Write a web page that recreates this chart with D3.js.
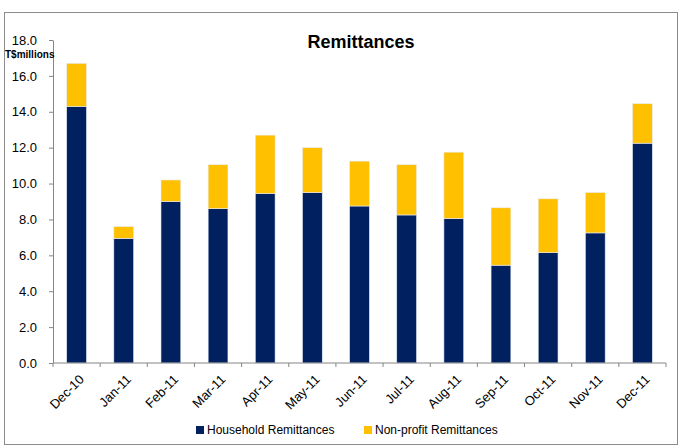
<!DOCTYPE html>
<html>
<head>
<meta charset="utf-8">
<script src="https://cdn.jsdelivr.net/npm/d3@7"></script>
<style>
  body { margin: 0; background: #fff; }
  svg text { font-family: "Liberation Sans Narrow", "Liberation Sans", sans-serif; }
</style>
</head>
<body>
<div id="chart"></div>
<script>
// Data (T$ millions).
var months = ["Dec-10", "Jan-11", "Feb-11", "Mar-11", "Apr-11", "May-11", "Jun-11",
  "Jul-11", "Aug-11", "Sep-11", "Oct-11", "Nov-11", "Dec-11"];
var household = [14.3, 6.95, 9.0, 8.6, 9.45, 9.5, 8.75, 8.25, 8.05, 5.45, 6.15, 7.25, 12.25];
var nonprofit = [2.4, 0.65, 1.2, 2.45, 3.25, 2.5, 2.5, 2.8, 3.7, 3.2, 3.0, 2.25, 2.2];
var yTicks = [0, 2, 4, 6, 8, 10, 12, 14, 16, 18];
var seriesNames = ["Household Remittances", "Non-profit Remittances"];
var colors = ["#002060", "#FFC000"];

var svgWidth = 680;
var svgHeight = 446;

var svg = d3.select("#chart")
  .append("svg")
  .attr("width", svgWidth)
  .attr("height", svgHeight);

// Outer chart border.
svg.append("rect")
  .attr("x", 4.5).attr("y", 12.5)
  .attr("width", 673).attr("height", 432)
  .attr("fill", "none")
  .attr("stroke", "#8c8c8c")
  .attr("stroke-width", 1);

var plot = { left: 53, right: 666, top: 40, bottom: 363 };

var x = d3.scaleBand()
  .domain(months)
  .range([plot.left, plot.right])
  .padding(0);

var y = d3.scaleLinear()
  .domain([0, 18])
  .range([plot.bottom, plot.top]);

var barW = x.bandwidth() * 0.42;

var rows = months.map(function(m, i) {
  return { month: m, household: household[i], nonprofit: nonprofit[i] };
});
var stack = d3.stack().keys(["household", "nonprofit"])(rows);

// Bars.
svg.selectAll("g.series")
  .data(stack)
  .enter()
  .append("g")
  .attr("class", "series")
  .attr("fill", (d, i) => colors[i])
  .selectAll("rect")
  .data(d => d)
  .enter()
  .append("rect")
  .attr("x", d => x(d.data.month) + (x.bandwidth() - barW) / 2)
  .attr("width", barW)
  .attr("y", d => y(d[1]))
  .attr("height", d => y(d[0]) - y(d[1]))
  .attr("stroke", "#e8ecf4")
  .attr("stroke-width", 0.6);

// Y axis.
var leftAxis = d3.axisLeft(y)
  .tickValues(yTicks)
  .tickFormat(d3.format(".1f"))
  .tickSize(4)
  .tickSizeOuter(0)
  .tickPadding(12);

var yAxisG = svg.append("g")
  .attr("transform", `translate(${plot.left}, 0)`)
  .call(leftAxis);
yAxisG.select(".domain").attr("stroke", "#868686");
yAxisG.selectAll(".tick line").attr("stroke", "#868686");
yAxisG.selectAll(".tick text")
  .attr("font-size", "13px")
  .attr("fill", "#000");

// X axis: Excel style ticks between categories.
svg.append("line")
  .attr("x1", plot.left).attr("x2", plot.right)
  .attr("y1", plot.bottom).attr("y2", plot.bottom)
  .attr("stroke", "#868686");

svg.selectAll("line.xtick")
  .data(months.concat(["end"]))
  .enter()
  .append("line")
  .attr("class", "xtick")
  .attr("x1", (d, i) => i < months.length ? x(d) : plot.right)
  .attr("x2", (d, i) => i < months.length ? x(d) : plot.right)
  .attr("y1", plot.bottom)
  .attr("y2", plot.bottom + 4)
  .attr("stroke", "#868686");

svg.selectAll("text.xlabel")
  .data(months)
  .enter()
  .append("text")
  .attr("class", "xlabel")
  .attr("transform", d => `translate(${x(d) + x.bandwidth() / 2 + 5}, ${plot.bottom + 14}) rotate(-45)`)
  .attr("text-anchor", "end")
  .attr("dy", "0.35em")
  .attr("font-size", "13px")
  .attr("fill", "#000")
  .text(d => d);

// Title and unit label.
svg.append("text")
  .attr("x", 361)
  .attr("y", 48)
  .attr("text-anchor", "middle")
  .attr("font-size", "18px")
  .attr("font-weight", "bold")
  .text("Remittances");

svg.append("text")
  .attr("x", 5)
  .attr("y", 58)
  .attr("font-size", "10px")
  .attr("font-weight", "bold")
  .text("T$millions");

// Legend.
var legendX = [196, 364];
var legend = svg.selectAll("g.legend")
  .data(seriesNames)
  .enter()
  .append("g")
  .attr("class", "legend")
  .attr("transform", (d, i) => `translate(${legendX[i]}, 430)`);

legend.append("rect")
  .attr("x", 0).attr("y", -4)
  .attr("width", 8).attr("height", 8)
  .attr("fill", (d, i) => colors[i]);

legend.append("text")
  .attr("x", 11)
  .attr("dy", "0.35em")
  .attr("font-size", "12px")
  .text(d => d);
</script>
</body>
</html>
